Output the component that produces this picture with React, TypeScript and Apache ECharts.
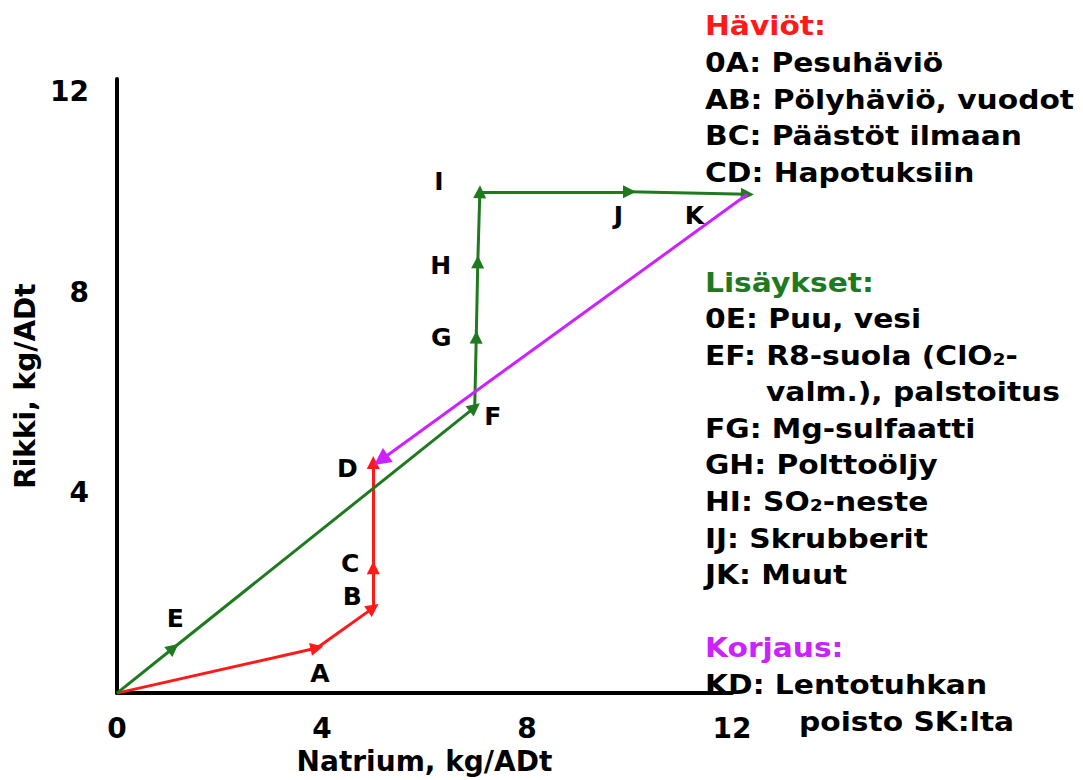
import { useEffect, useRef } from 'react';
import * as echarts from 'echarts';

// Points of the sodium/sulphur balance diagram (x = Natrium, y = Rikki, kg/ADt)
const pointNames = ['0', 'A', 'B', 'C', 'D', 'E', 'F', 'G', 'H', 'I', 'J', 'K'];
const pointX = [0, 3.9, 5.0, 5.0, 5.0, 1.1, 6.98, 7.01, 7.04, 7.08, 10.0, 12.3];
const pointY = [0, 0.9, 1.7, 2.5, 4.6, 0.9, 5.7, 7.1, 8.6, 10.0, 10.0, 9.95];

// Paths (sequence of point names)
const lossPath = ['0', 'A', 'B', 'C', 'D'];
const additionPath = ['0', 'E', 'F', 'G', 'H', 'I', 'J', 'K'];
const correctionStart = [12.3, 9.95];
const correctionEnd = [5.15, 4.65];

const labelledPoints = ['A', 'B', 'C', 'D', 'E', 'F', 'G', 'H', 'I', 'J', 'K'];
const labelOffsets: Record<string, number[]> = {
  A: [3, 26], B: [-21, -11], C: [-23, -4], D: [-26, 6], E: [2, -29], F: [18, 9],
  G: [-35, 0], H: [-37, 4], I: [-41, -10], J: [-11, 24], K: [-53, 21],
};

const xTicks = [0, 4, 8, 12];
const yTicks = [4, 8, 12];

const lossTitle = 'Häviöt:';
const lossItems = ['0A: Pesuhäviö', 'AB: Pölyhäviö, vuodot', 'BC: Päästöt ilmaan', 'CD: Hapotuksiin'];
const additionTitle = 'Lisäykset:';
const additionItems = [
  '0E: Puu, vesi',
  'EF: R8-suola (ClO₂-',
  'valm.), palstoitus',
  'FG: Mg-sulfaatti',
  'GH: Polttoöljy',
  'HI: SO₂-neste',
  'IJ: Skrubberit',
  'JK: Muut',
];
const additionIndent = [0, 0, 61, 0, 0, 0, 0, 0];
const correctionTitle = 'Korjaus:';
const correctionItems = ['KD: Lentotuhkan', 'poisto SK:lta'];
const correctionIndent = [0, 94];

const RED = '#ff1a1a';
const GREEN = '#1f7a1f';
const MAGENTA = '#cc22ff';
const FONT = '"DejaVu Sans", Verdana, sans-serif';

function pt(name: string): number[] {
  const i = pointNames.indexOf(name);
  return [pointX[i], pointY[i]];
}

function segments(path: string[]) {
  const out: any[] = [];
  for (let i = 0; i < path.length - 1; i++) {
    out.push({ coords: [pt(path[i]), pt(path[i + 1])] });
  }
  return out;
}

export default function App() {
  const ref = useRef<HTMLDivElement>(null);
  useEffect(() => {
    if (!ref.current) return;
    const chart = echarts.init(ref.current, undefined, { renderer: 'svg' });

    const legendX = 705;
    const graphics: any[] = [];
    const addText = (text: string, y: number, color: string, indent = 0) => {
      graphics.push({
        type: 'text',
        x: legendX + indent,
        y,
        scaleX: 1.1,
        style: {
          text,
          fill: color,
          font: `bold 27px ${FONT}`,
          verticalAlign: 'middle',
          align: 'left',
        },
      });
    };
    addText(lossTitle, 26, RED);
    lossItems.forEach((t, i) => addText(t, 63 + i * 36.7, '#000'));
    addText(additionTitle, 283, GREEN);
    additionItems.forEach((t, i) => addText(t, 319 + i * 36.6, '#000', additionIndent[i]));
    addText(correctionTitle, 648, MAGENTA);
    correctionItems.forEach((t, i) => addText(t, 685 + i * 37, '#000', correctionIndent[i]));

    const lineBase = {
      type: 'lines',
      coordinateSystem: 'cartesian2d',
      polyline: false,
      symbol: ['none', 'triangle'],
      symbolSize: 13,
      clip: false,
      silent: true,
    };

    const tickFont = { color: '#000', fontSize: 28, fontWeight: 'bold', fontFamily: FONT };

    chart.setOption({
      animation: false,
      backgroundColor: '#fff',
      grid: { left: 117, right: 351, top: 79, bottom: 80, containLabel: false },
      xAxis: {
        type: 'value',
        min: 0,
        max: 12,
        interval: 4,
        name: 'Natrium, kg/ADt',
        nameLocation: 'middle',
        nameGap: 49,
        nameTextStyle: { color: '#000', fontSize: 28, fontWeight: 'bold', fontFamily: FONT },
        axisLine: { show: true, onZero: false, lineStyle: { color: '#000', width: 4 } },
        axisTick: { show: false },
        splitLine: { show: false },
        axisLabel: {
          margin: 21,
          ...tickFont,
          formatter: (v: number) => (xTicks.includes(v) ? String(v) : ''),
        },
      },
      yAxis: {
        type: 'value',
        min: 0,
        max: 12.25,
        interval: 4,
        name: 'Rikki, kg/ADt',
        nameLocation: 'middle',
        nameGap: 78,
        nameTextStyle: { color: '#000', fontSize: 28, fontWeight: 'bold', fontFamily: FONT },
        axisLine: { show: true, onZero: false, lineStyle: { color: '#000', width: 4 } },
        axisTick: { show: false },
        splitLine: { show: false },
        axisLabel: {
          margin: 28,
          ...tickFont,
          showMaxLabel: false,
          formatter: (v: number) => (yTicks.includes(v) ? String(v) : ''),
        },
      },
      series: [
        {
          ...lineBase,
          name: 'Häviöt',
          lineStyle: { color: RED, width: 3, opacity: 1 },
          data: segments(lossPath),
        },
        {
          ...lineBase,
          name: 'Lisäykset',
          lineStyle: { color: GREEN, width: 3, opacity: 1 },
          data: segments(additionPath),
        },
        {
          ...lineBase,
          name: 'Korjaus',
          symbolSize: 17,
          lineStyle: { color: MAGENTA, width: 3, opacity: 1 },
          data: [{ coords: [correctionStart, correctionEnd] }],
        },
        {
          type: 'scatter',
          name: 'labels',
          symbolSize: 0,
          silent: true,
          clip: false,
          z: 10,
          itemStyle: { opacity: 1 },
          data: labelledPoints.map((n) => ({
            name: n,
            value: pt(n),
            label: {
              show: true,
              formatter: n,
              position: 'inside',
              offset: labelOffsets[n],
              color: '#000',
              opacity: 1,
              fontSize: 25,
              fontWeight: 'bold',
              fontFamily: FONT,
            },
          })),
        },
      ],
      graphic: graphics,
    });

    return () => chart.dispose();
  }, []);

  return (
    <div
      ref={ref}
      style={{ position: 'absolute', left: 0, top: 0, width: 1083, height: 780 }}
    />
  );
}
